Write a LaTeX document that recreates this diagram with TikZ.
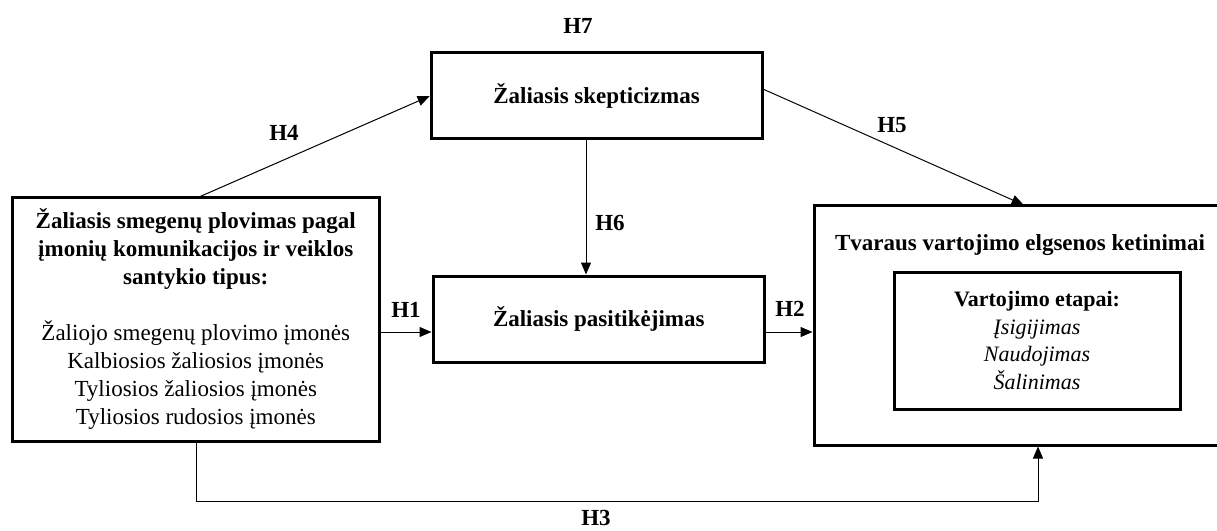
\documentclass[tikz,border=0pt]{standalone}
\usepackage{fontspec}
\setmainfont{Liberation Serif}
\usetikzlibrary{arrows.meta,calc}
\begin{document}
\begin{tikzpicture}[x=1pt,y=-1pt,
  box/.style={draw,line width=3pt,inner sep=0pt,outer sep=0pt,align=center,
    font=\fontsize{23}{28}\selectfont},
  conn/.style={line width=1pt,-{Triangle[length=12pt,width=10pt]},shorten >=1.5pt},
  lbl/.style={font=\fontsize{23}{28}\selectfont\bfseries,inner sep=0pt}]
\useasboundingbox (0,0) rectangle (1217,530);
\clip (0,0) rectangle (1217,530);

% boxes
\node[box,minimum width=367.5pt,minimum height=244pt] (A) at (195.75,319)
  {\bfseries Žaliasis smegenų plovimas pagal\\
   \bfseries įmonių komunikacijos ir veiklos\\
   \bfseries santykio tipus:\\[28pt]
   Žaliojo smegenų plovimo įmonės\\
   Kalbiosios žaliosios įmonės\\
   Tyliosios žaliosios įmonės\\
   Tyliosios rudosios įmonės};
\node[box,minimum width=331pt,minimum height=86pt] (S) at (596.5,95.5)
  {\bfseries Žaliasis skepticizmas};
\node[box,minimum width=331.5pt,minimum height=86pt] (P) at (598.75,319)
  {\bfseries Žaliasis pasitikėjimas};
\node[box,minimum width=446pt,minimum height=239.5pt] (R) at (1037,325.25) {};
\node[lbl] (T) at (1020,245) {Tvaraus vartojimo elgsenos ketinimai};
\node[box,minimum width=286pt,minimum height=137pt,
      font=\fontsize{22}{27.5}\selectfont] (V) at (1037,340.5)
  {\textbf{Vartojimo etapai:}\\
   \textit{Įsigijimas}\\
   \textit{Naudojimas}\\
   \textit{Šalinimas}};

% hypothesis labels
\node[lbl] (H7) at (578,26) {H7};
\node[lbl] (H4) at (284,133) {H4};
\node[lbl] (H5) at (892,125) {H5};
\node[lbl] (H6) at (610,223) {H6};
\node[lbl] (H1) at (406,310) {H1};
\node[lbl] (H2) at (790,309) {H2};
\node[lbl] (H3) at (596,518) {H3};

% connector anchor points
\path (A.north west) ++(187,0) coordinate (h4s);
\path (R.north west) ++(211,0) coordinate (h5e);
\coordinate (h6x) at (586,0);
\coordinate (h1y) at (0,332);
\coordinate (h3y) at (0,501);
\coordinate (h3a) at (196,0);
\coordinate (h3b) at (1038,0);

% connectors
\draw[conn] (h4s) -- (S.west);
\draw[conn] ($(S.north east)!0.42!(S.south east)$) -- (h5e);
\draw[conn] (S.south -| h6x) -- (P.north -| h6x);
\draw[conn] (A.east |- h1y) -- (P.west |- h1y);
\draw[conn] (P.east |- h1y) -- (R.west |- h1y);
\draw[conn] (A.south -| h3a) -- (h3a |- h3y) -- (h3b |- h3y) -- (R.south -| h3b);
\end{tikzpicture}
\end{document}
